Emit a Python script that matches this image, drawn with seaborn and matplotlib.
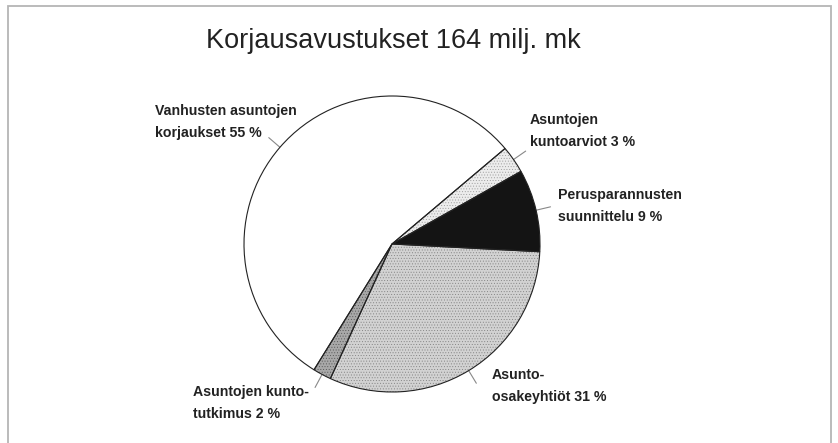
import numpy as np
import matplotlib
matplotlib.use("Agg")
import matplotlib.pyplot as plt
import seaborn as sns
from matplotlib.patches import Rectangle

# ---- data ----
title = "Korjausavustukset 164 milj. mk"
labels = ["Perusparannusten\nsuunnittelu 9 %",
          "Asuntojen\nkuntoarviot 3 %",
          "Vanhusten asuntojen\nkorjaukset 55 %",
          "Asuntojen kunto-\ntutkimus 2 %",
          "Asunto-\nosakeyhtiöt 31 %"]
values = [9, 3, 55, 2, 31]
colors = ["#141414", "#ececec", "#ffffff", "#a8a8a8", "#d2d2d2"]
hatches = ["", "......", "", "......", "......"]
hatch_colors = ["#141414", "#9a9a9a", "#ffffff", "#555555", "#808080"]

sns.set_theme(style="white")
plt.rcParams["font.family"] = ["Liberation Sans", "DejaVu Sans"]
plt.rcParams["hatch.linewidth"] = 0.35

W, H = 838, 443
fig = plt.figure(figsize=(W / 100, H / 100), dpi=100)
ax = fig.add_axes([0, 0, 1, 1])

cx, cy, R = 392, H - 244, 148
wedges, _ = ax.pie(values, colors=colors, startangle=-3, counterclock=True,
                   center=(cx, cy), radius=R, frame=True,
                   wedgeprops=dict(linewidth=0))
# hatch overlay (lighter stipple)
hw, _ = ax.pie(values, colors=colors, startangle=-3, counterclock=True,
               center=(cx, cy), radius=R, frame=True,
               wedgeprops=dict(fill=False, linewidth=0))
for w, h, hc in zip(hw, hatches, hatch_colors):
    if h:
        w.set_hatch(h)
        w.set_edgecolor(hc)
# outlines
ow, _ = ax.pie(values, startangle=-3, counterclock=True,
               center=(cx, cy), radius=R, frame=True,
               wedgeprops=dict(fill=False, edgecolor="#222222", linewidth=0.8))
ax.set_xlim(0, W)
ax.set_ylim(0, H)
ax.set_aspect("auto")
ax.axis("off")

# leader lines at wedge mid-angles
for w in wedges:
    a = np.deg2rad((w.theta1 + w.theta2) / 2)
    r0, r1 = R * 1.0, R * 1.1
    ax.plot([cx + r0 * np.cos(a), cx + r1 * np.cos(a)],
            [cy + r0 * np.sin(a), cy + r1 * np.sin(a)],
            color="#888888", lw=0.8, zorder=0)

# label positions (pixel coordinates: left x, centre y of first line)
pos = [(558, 195), (530, 120), (155, 111), (193, 392), (492, 375)]
gap = 22
for lab, (x, y) in zip(labels, pos):
    for i, line in enumerate(lab.split("\n")):
        ax.text(x, H - (y + i * gap), line, ha="left", va="center",
                fontsize=10.2, fontweight="bold", color="#222222")

ax.text(393, H - 41, title, ha="center", va="center", fontsize=19.5,
        color="#222222")

# frame
ax.add_patch(Rectangle((8, -20), 823, H - 6 + 20, fill=False,
                       edgecolor="#b5b5b5", lw=1.3, clip_on=False))

fig.savefig("out.png", dpi=100)
